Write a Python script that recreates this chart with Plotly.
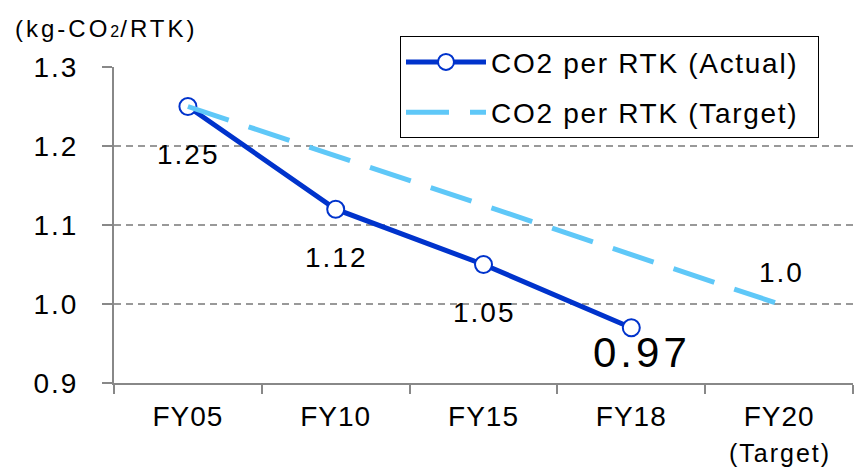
import plotly.graph_objects as go

categories = ["FY05", "FY10", "FY15", "FY18", "FY20"]
tick_labels = ["FY05", "FY10", "FY15", "FY18", "FY20"]
tick_sublabels = ["", "", "", "", "(Target)"]
y_ticks = [0.9, 1.0, 1.1, 1.2, 1.3]
y_tick_labels = ["0.9", "1.0", "1.1", "1.2", "1.3"]
actual_x = ["FY05", "FY10", "FY15", "FY18"]
actual_y = [1.25, 1.12, 1.05, 0.97]
target_x = ["FY05", "FY20"]
target_y = [1.25, 1.0]
actual_labels = ["1.25", "1.12", "1.05", "0.97"]
target_label = "1.0"
series_names = ["CO2 per RTK (Actual)", "CO2 per RTK (Target)"]
unit_label = ("(kg-CO", "2", "/RTK)")

FONT = "Liberation Sans, Arial, sans-serif"
BLUE = "#0033cc"
LIGHT = "#5fc8f8"


def sp(text, s, size=None):
    st = "letter-spacing:%spx" % s
    if size:
        st += ";font-size:%spx" % size
    return "<span style='%s'>%s</span>" % (st, text)


PAD = "<span style='letter-spacing:6px'>&nbsp;</span>"

fig = go.Figure()
fig.add_trace(go.Scatter(
    x=actual_x, y=actual_y, mode="lines+markers", name=sp(series_names[0], 1.7) + PAD,
    line=dict(color=BLUE, width=5),
    marker=dict(symbol="circle", size=17, color="white", line=dict(color=BLUE, width=2)),
    legendrank=1, legendgroup="a",
))
fig.add_trace(go.Scatter(
    x=target_x, y=target_y, mode="lines", name=sp(series_names[1], 1.7) + PAD,
    line=dict(color=LIGHT, width=5, dash="43px,21px"),
    legendrank=2, legendgroup="t",
))

annotations = []
for i, (xv, yv, t) in enumerate(zip(actual_x, actual_y, actual_labels)):
    big = (i == len(actual_x) - 1)
    annotations.append(dict(
        x=xv, y=yv, text=sp(t, 4 if big else 2), showarrow=False,
        font=dict(family=FONT, size=42 if big else 28, color="black"),
        yshift=-25 if big else -48, xshift=11 if big else 1,
    ))
annotations.append(dict(
    x=target_x[-1], y=target_y[-1], text=sp(target_label, 2), showarrow=False,
    font=dict(family=FONT, size=28, color="black"), yshift=32, xshift=2,
))
annotations.append(dict(
    xref="paper", yref="paper", x=-0.137, y=1.122, xanchor="left", yanchor="middle",
    text=sp(unit_label[0], 3) + sp(unit_label[1], 1, 16) + sp(unit_label[2], 3),
    showarrow=False,
    font=dict(family=FONT, size=24, color="black"),
))
for c, sub in zip(categories, tick_sublabels):
    if sub:
        annotations.append(dict(
            x=c, y=0, yref="paper", text=sp(sub, 2), showarrow=False,
            font=dict(family=FONT, size=25, color="black"),
            yanchor="middle", yshift=-70, xshift=1,
        ))

fig.update_layout(
    width=854, height=468,
    margin=dict(l=114, r=1, t=67, b=85),
    paper_bgcolor="white", plot_bgcolor="white",
    font=dict(family=FONT, size=28, color="black"),
    showlegend=True,
    legend=dict(
        x=0.387, y=1.0975, xanchor="left", yanchor="top",
        bgcolor="white", bordercolor="black", borderwidth=1,
        font=dict(family=FONT, size=28, color="black"),
        traceorder="grouped", tracegroupgap=11, itemwidth=80,
    ),
    annotations=annotations,
)
fig.update_xaxes(
    type="category", categoryorder="array", categoryarray=categories,
    tickvals=categories, ticktext=[sp(t, 1) for t in tick_labels],
    range=[-0.5, 4.5], showgrid=False,
    showline=True, linecolor="#888888", linewidth=2,
    ticks="outside", tickson="boundaries", ticklen=9, tickcolor="#888888", tickwidth=2,
    tickfont=dict(family=FONT, size=28, color="black"),
    ticklabelstandoff=7,
)
fig.update_yaxes(
    range=[0.9, 1.3], tickvals=y_ticks,
    ticktext=[sp(t, 2) for t in y_tick_labels],
    showgrid=True, gridcolor="#999999", gridwidth=2, griddash="7px,5px",
    showline=True, linecolor="#888888", linewidth=2,
    ticks="outside", ticklen=10, tickcolor="#888888", tickwidth=2,
    tickfont=dict(family=FONT, size=28, color="black"),
    ticklabelstandoff=18, zeroline=False,
)

fig.write_html("out.html")
